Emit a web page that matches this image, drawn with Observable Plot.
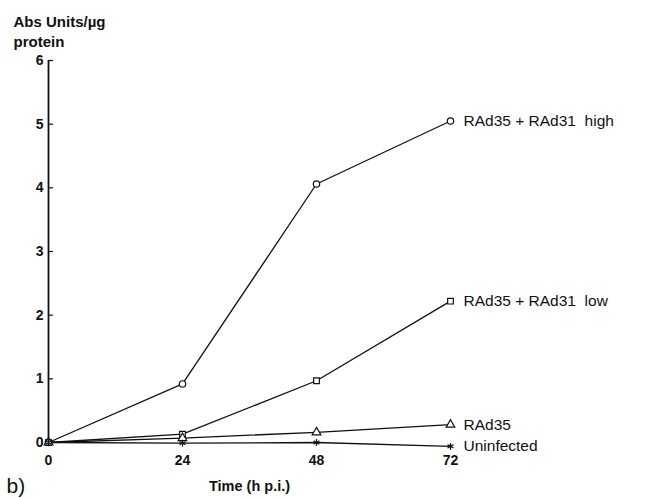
<!DOCTYPE html>
<html>
<head>
<meta charset="utf-8">
<script src="https://cdn.jsdelivr.net/npm/d3@7"></script>
<script src="https://cdn.jsdelivr.net/npm/@observablehq/plot@0.6"></script>
<style>
  html, body { margin: 0; padding: 0; background: #fff; }
  #chart svg { font-family: "Liberation Sans", Arial, sans-serif; }
</style>
</head>
<body>
<div id="chart"></div>
<script>
const hours = [0, 24, 48, 72];
const seriesNames = ["RAd35 + RAd31  high", "RAd35 + RAd31  low", "RAd35", "Uninfected"];
const seriesSymbols = ["circle", "square", "triangle", "asterisk"];
const highValues = [0, 0.92, 4.06, 5.05];
const lowValues = [0, 0.13, 0.97, 2.22];
const rad35Values = [0, 0.07, 0.16, 0.28];
const uninfectedValues = [0, -0.01, 0, -0.06];
const yTicks = [0, 1, 2, 3, 4, 5, 6];
const xTicks = [0, 24, 48, 72];
const yTitleLines = ["Abs Units/\u00b5g", "protein"];
const xTitle = "Time (h p.i.)";
const panelLabel = "b)";

const allValues = [highValues, lowValues, rad35Values, uninfectedValues];
const series = seriesNames.map((name, i) => ({
  name,
  symbol: seriesSymbols[i],
  points: hours.map((h, j) => ({hour: h, value: allValues[i][j], name}))
}));

const marks = [
  Plot.ruleX([0], {y1: 0, y2: 6, stroke: "#111", strokeWidth: 1.8}),
  Plot.ruleY(yTicks, {x1: 0, x2: 0.9, stroke: "#111", strokeWidth: 1.2})
];
for (const s of series) {
  marks.push(Plot.line(s.points, {x: "hour", y: "value", stroke: "#111", strokeWidth: 1.3}));
}
for (const s of series) {
  marks.push(Plot.dot(s.points, {x: "hour", y: "value", symbol: s.symbol, r: 3.2, stroke: "#111", fill: s.symbol === "asterisk" ? "none" : "white", strokeWidth: 1.2}));
}
marks.push(Plot.text(series.map(s => s.points[s.points.length - 1]), {
  x: "hour", y: "value", text: "name", textAnchor: "start", dx: 13, fontSize: 15.5, fontWeight: "normal", fill: "#111"
}));
marks.push(Plot.text([yTitleLines.join("\n")], {
  frameAnchor: "top-left", dx: -35, dy: -47, textAnchor: "start", lineAnchor: "top",
  fontSize: 15, fontWeight: "bold", lineHeight: 1.3, fill: "#111"
}));
marks.push(Plot.text([xTitle], {
  frameAnchor: "bottom", dy: 48, fontSize: 14.5, fontWeight: "bold", fill: "#111"
}));
marks.push(Plot.text([panelLabel], {
  frameAnchor: "bottom-left", dx: -42, dy: 50, fontSize: 21, fontWeight: "normal", lineAnchor: "bottom", textAnchor: "start", fill: "#111"
}));

const chart = Plot.plot({
  width: 646,
  height: 498,
  marginTop: 60,
  marginBottom: 56,
  marginLeft: 48,
  marginRight: 196,
  style: {fontSize: "14px", fontWeight: "bold", color: "#111", background: "white"},
  x: {domain: [0, 72], ticks: xTicks, tickSize: 0, tickPadding: 13, label: null, tickFormat: d => String(d)},
  y: {domain: [0, 6], ticks: yTicks, tickSize: 0, tickPadding: 5, label: null, tickFormat: d => String(d)},
  marks
});
document.getElementById("chart").appendChild(chart);
</script>
</body>
</html>
